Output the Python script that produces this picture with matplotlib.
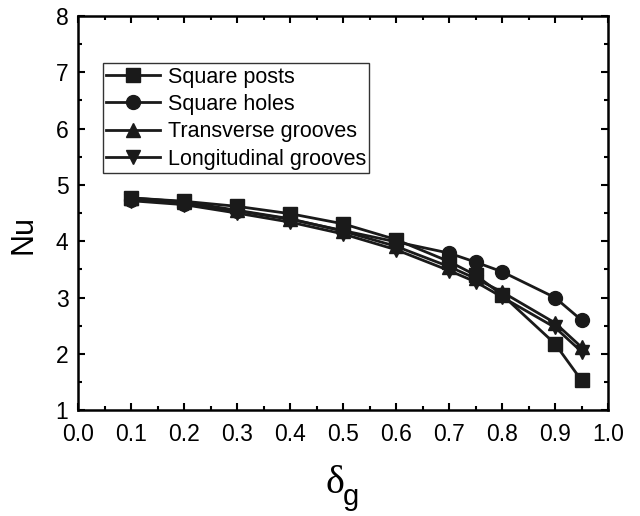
import matplotlib
matplotlib.use('Agg')
import matplotlib.pyplot as plt
from matplotlib.ticker import MultipleLocator, FormatStrFormatter

plt.rcParams['font.family'] = ['Liberation Sans', 'DejaVu Sans']

delta_g = [0.1, 0.2, 0.3, 0.4, 0.5, 0.6, 0.7, 0.75, 0.8, 0.9, 0.95]
square_posts = [4.77, 4.71, 4.62, 4.49, 4.31, 4.03, 3.64, 3.40, 3.05, 2.18, 1.53]
square_holes = [4.74, 4.67, 4.54, 4.39, 4.19, 3.99, 3.79, 3.63, 3.46, 3.00, 2.60]
transverse = [4.77, 4.70, 4.55, 4.40, 4.18, 3.91, 3.55, 3.34, 3.10, 2.55, 2.12]
longitudinal = [4.72, 4.65, 4.50, 4.34, 4.13, 3.85, 3.48, 3.28, 3.01, 2.47, 2.04]
labels = ['Square posts', 'Square holes', 'Transverse grooves', 'Longitudinal grooves']

fig = plt.figure(figsize=(6.4, 5.16), dpi=100)
ax = fig.add_axes([0.122, 0.205, 0.828, 0.764])

series = [square_posts, square_holes, transverse, longitudinal]
markers = ['s', 'o', '^', 'v']
for ys, m, lab in zip(series, markers, labels):
    ax.plot(delta_g, ys, color='#1a1a1a', marker=m, markersize=10, linewidth=2.0, label=lab)

ax.set_xlim(0.0, 1.0)
ax.set_ylim(1, 8)
ax.xaxis.set_major_locator(MultipleLocator(0.1))
ax.xaxis.set_minor_locator(MultipleLocator(0.05))
ax.yaxis.set_major_locator(MultipleLocator(1))
ax.yaxis.set_minor_locator(MultipleLocator(0.5))
ax.xaxis.set_major_formatter(FormatStrFormatter('%.1f'))
ax.tick_params(which='both', direction='in', top=True, right=True, width=1.5, labelsize=16.5)
ax.tick_params(which='major', length=5)
ax.tick_params(which='minor', length=3)
ax.tick_params(axis='x', pad=9)
ax.tick_params(axis='y', pad=7)
for s in ax.spines.values():
    s.set_linewidth(1.8)

ax.set_ylabel('Nu', fontsize=22)
ax.yaxis.set_label_coords(-0.075, 0.447)
fig.text(0.523, 0.045, 'δ', fontsize=29, ha='center', va='baseline',
         family=['Liberation Serif', 'DejaVu Serif'])
fig.text(0.536, 0.021, 'g', fontsize=21, ha='left', va='baseline')

leg = ax.legend(loc='upper left', bbox_to_anchor=(0.047, 0.88), fontsize=15.5,
                frameon=True, fancybox=False, edgecolor='black', handlelength=2.5,
                handletextpad=0.35, borderpad=0.15, labelspacing=0.3, borderaxespad=0)
leg.get_frame().set_linewidth(1.0)

fig.savefig('out.png', dpi=100)
